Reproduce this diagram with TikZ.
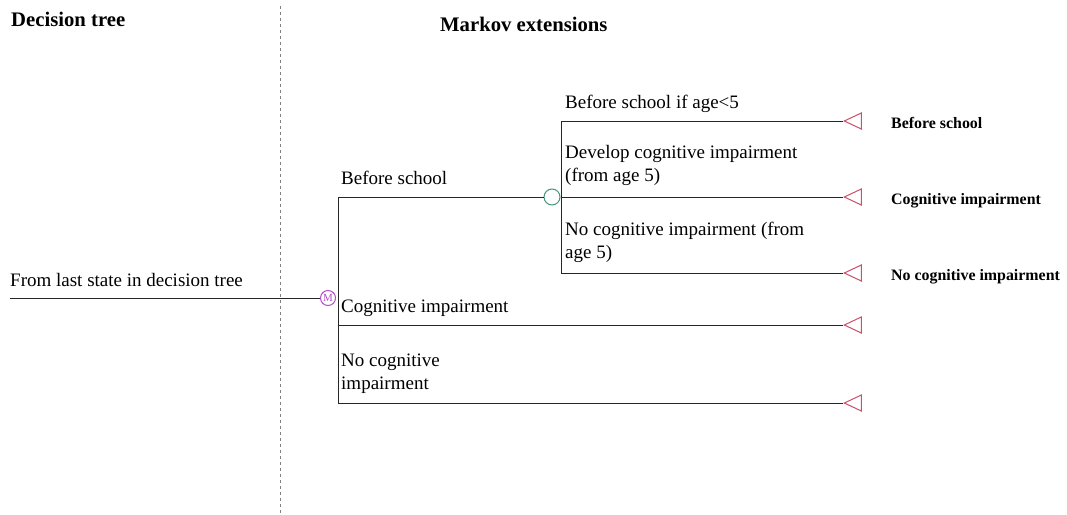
\documentclass[tikz,border=0pt]{standalone}
\usepackage{fontspec}
\setmainfont{Liberation Serif}
\usetikzlibrary{shapes.geometric}
\definecolor{termred}{RGB}{205,80,105}
\definecolor{markovpurple}{RGB}{175,80,195}
\definecolor{chancegreen}{RGB}{70,150,120}
\begin{document}
\begin{tikzpicture}
		[x=1pt,y=-1pt,
		branch/.style={draw=black!85,line width=0.9pt},
		lbl/.style={anchor=base west,inner sep=0pt,align=left,font=\fontsize{19}{23}\selectfont},
		head/.style={anchor=base west,inner sep=0pt,font=\fontsize{20.7}{24}\selectfont\bfseries},
		endlbl/.style={anchor=base west,inner sep=0pt,font=\fontsize{15.9}{18}\selectfont\bfseries},
		term/.style={isosceles triangle,shape border rotate=180,isosceles triangle stretches,draw=termred,line width=1pt,fill=white,inner sep=0pt,minimum width=16pt,minimum height=17pt,anchor=apex}]
		\useasboundingbox (0,0) rectangle (1067,514);

		% draw the two headings and the divider
		\node [head] (dtree) at (11,26) {Decision tree};
		\node [head] (markov) at (440,31) {Markov extensions};
		\draw [dashed,draw=gray,line width=0.8pt] (280,6) -- (280,514);

		% draw the markov node
		\node [circle,draw=markovpurple,line width=1pt,inner sep=0pt,minimum size=15pt,text=markovpurple,font=\fontsize{11}{11}\selectfont] (mnode) at (328,298) {M};
		\coordinate (start) at (10,298);
		\draw [branch] (start) -- (mnode);
		\node [lbl] (fromlast) at (10,286) {From last state in decision tree};

		% draw the three states
		\coordinate (top) at (338,197);
		\coordinate (mid) at (338,325);
		\coordinate (bot) at (338,403);
		\node [circle,draw=chancegreen,line width=1pt,fill=white,inner sep=0pt,minimum size=16pt] (chance) at (552,197) {};
		\node [term] (tcog) at (843,325) {};
		\node [term] (tnocog) at (843,403) {};
		\draw [branch] (top) -- (bot);
		\draw [branch] (top) -- (chance);
		\draw [branch] (mid) -- (tcog);
		\draw [branch] (bot) -- (tnocog);
		\node [lbl] (before) at (341,184) {Before school};
		\node [lbl] (cog) at (341,312) {Cognitive impairment};
		\node [lbl] (nocog) at (341,389) {No cognitive\\impairment};

		% draw the chance node branches
		\coordinate (ctop) at (561,121);
		\coordinate (cbot) at (561,273);
		\node [term] (tbefore) at (843,121) {};
		\node [term] (tdev) at (843,197) {};
		\node [term] (tnodev) at (843,273) {};
		\draw [branch] (ctop) -- (cbot);
		\draw [branch] (ctop) -- (tbefore);
		\draw [branch] (chance) -- (tdev);
		\draw [branch] (cbot) -- (tnodev);
		\node [lbl] (ifage) at (565,108) {Before school if age<5};
		\node [lbl] (develop) at (565,181) {Develop cognitive impairment\\(from age 5)};
		\node [lbl] (nodevelop) at (565,258) {No cognitive impairment (from\\age 5)};

		% draw the end states
		\node [endlbl] (endbefore) at (891,128) {Before school};
		\node [endlbl] (endcog) at (891,204) {Cognitive impairment};
		\node [endlbl] (endnocog) at (891,280) {No cognitive impairment};
	\end{tikzpicture}
\end{document}
